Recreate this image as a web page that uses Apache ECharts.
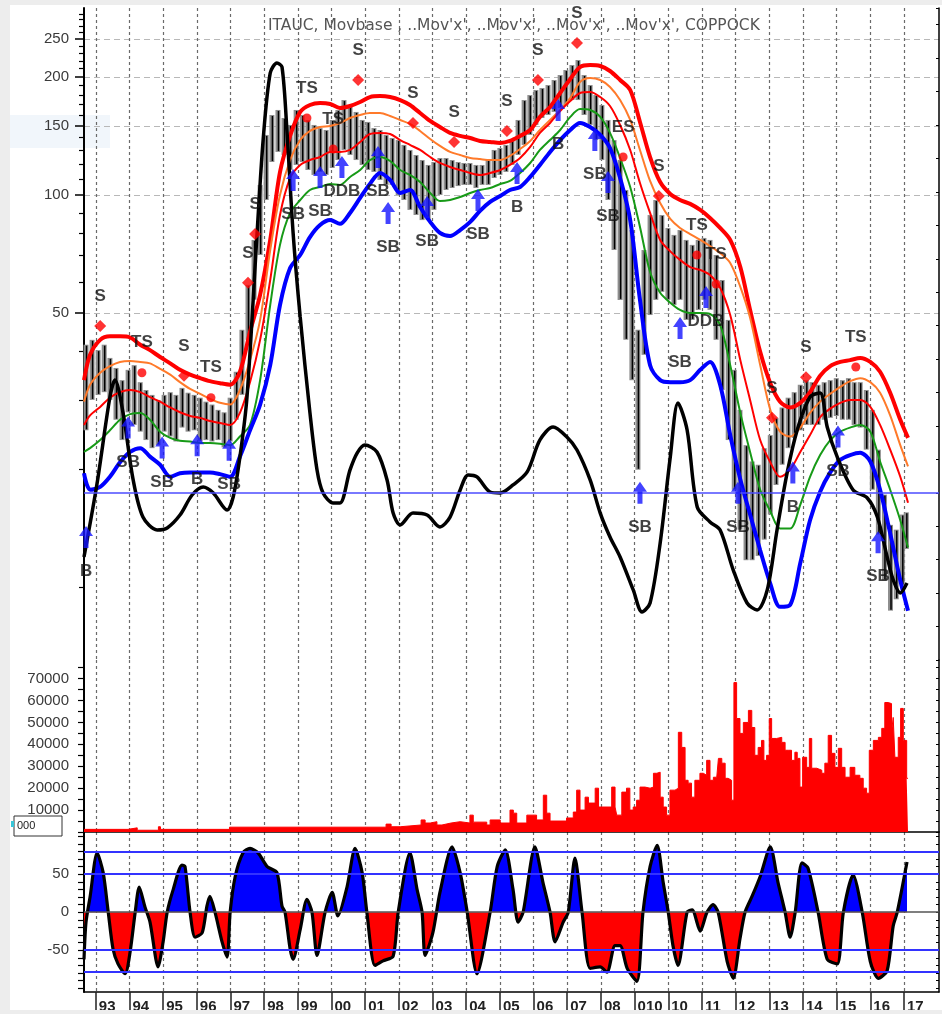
<!DOCTYPE html>
<html>
<head>
<meta charset="utf-8">
<title>ITAUC Movbase Coppock</title>
<style>
	* { padding: 0; margin: 0; }
	body { background: #ededed; }
	#main { width: 942px; height: 1014px; background: #fff; }
</style>
</head>
<body>
<div id="main"></div>
<script src="https://cdn.jsdelivr.net/npm/echarts/dist/echarts.min.js"></script>
<script type="text/javascript">
// ---- x axis ----
var yearTicks = [1993, 1994, 1995, 1996, 1997, 1998, 1999, 2000, 2001, 2002, 2003, 2004, 2005, 2006, 2007, 2008, 2009, 2010, 2011, 2012, 2013, 2014, 2015, 2016, 2017];
var yearLabels = ['93', '94', '95', '96', '97', '98', '99', '00', '01', '02', '03', '04', '05', '06', '07', '08', '010', '10', '11', '12', '13', '14', '15', '16', '17'];

// ---- y axis ticks ----
var priceLabels = [50, 100, 150, 200, 250];
var priceTicks = [10, 20, 30, 40, 60, 70, 80, 90, 110, 120, 130, 140, 160, 170, 180, 190, 210, 220, 230, 240, 260, 270, 280, 290];
var volLabels = [10000, 20000, 30000, 40000, 50000, 60000, 70000];
var volTicks = [0, 5000, 10000, 15000, 20000, 25000, 30000, 35000, 40000, 45000, 50000, 55000, 60000, 65000, 70000, 75000];
var oscLabels = [-50, 0, 50];
var oscTicks = [-100, -90, -80, -70, -60, -50, -40, -30, -20, -10, 0, 10, 20, 30, 40, 50, 60, 70, 80, 90, 100];
var oscLevels = [80, 50, -50, -78];

// ---- moving averages (sample years shared by the five lines) ----
var lineYears = [1992.65, 1992.83, 1993.13, 1993.42, 1993.72, 1994.02, 1994.32, 1994.61, 1994.91, 1995.21, 1995.50, 1995.80, 1996.10, 1996.39, 1996.69, 1996.99, 1997.28, 1997.58, 1997.88, 1998.18, 1998.47, 1998.77, 1999.07, 1999.36, 1999.66, 1999.96, 2000.25, 2000.55, 2000.85, 2001.14, 2001.44, 2001.74, 2002.04, 2002.33, 2002.63, 2002.93, 2003.22, 2003.52, 2003.82, 2004.12, 2004.41, 2004.71, 2005.01, 2005.30, 2005.60, 2005.90, 2006.19, 2006.49, 2006.79, 2007.09, 2007.38, 2007.68, 2007.98, 2008.27, 2008.57, 2008.87, 2009.16, 2009.46, 2009.76, 2010.06, 2010.35, 2010.65, 2010.95, 2011.24, 2011.54, 2011.84, 2012.14, 2012.43, 2012.73, 2013.03, 2013.32, 2013.62, 2013.92, 2014.21, 2014.51, 2014.81, 2015.11, 2015.40, 2015.70, 2016.00, 2016.29, 2016.59, 2016.89, 2017.12];
var movTop = [33.7, 39.1, 42.7, 43.6, 43.6, 43.3, 41.5, 40.2, 38.6, 37.2, 35.8, 34.8, 34.1, 33.5, 33.1, 32.8, 35.4, 44.8, 55.6, 76.8, 114.4, 141.5, 162.9, 169.7, 171.7, 170.7, 166.7, 168.7, 172.7, 177.8, 178.8, 177.8, 174.7, 169.7, 161.9, 154.5, 149.1, 144.0, 141.5, 139.8, 137.4, 136.6, 135.8, 137.4, 141.5, 146.5, 158.2, 167.7, 182.1, 197.7, 212.1, 214.6, 213.4, 207.2, 196.5, 185.3, 153.6, 125.0, 107.9, 100.6, 97.1, 94.9, 91.6, 87.4, 82.4, 76.8, 65.5, 50.9, 39.8, 33.1, 29.7, 28.7, 29.5, 31.4, 34.6, 36.6, 37.5, 37.9, 38.4, 37.5, 35.4, 31.3, 26.7, 24.0];
var movOrange = [29.7, 32.8, 35.2, 36.6, 37.5, 37.7, 37.5, 37.2, 36.0, 34.8, 33.3, 32.0, 31.1, 30.2, 29.5, 29.2, 31.8, 37.9, 48.0, 72.4, 100, 122.8, 138.1, 145.7, 149.1, 150.0, 152.7, 157.2, 160.0, 161.9, 161.9, 159.1, 155.4, 151.8, 145.7, 139.0, 133.4, 128.8, 126.5, 124.3, 123.5, 122.8, 122.8, 125.8, 131.0, 137.4, 146.5, 155.4, 164.8, 176.7, 194.3, 198.9, 196.5, 188.6, 174.7, 155.4, 130.3, 108.6, 95.4, 86.9, 82.4, 79.5, 76.8, 74.1, 71.1, 67.1, 58.3, 48.6, 36.8, 28.3, 24.9, 24.2, 25.5, 27.8, 29.7, 31.1, 32.4, 33.5, 34.1, 33.3, 31.3, 27.4, 23.0, 20.3];
var movRed = [25.9, 27.4, 28.8, 30.4, 31.4, 31.8, 31.4, 30.5, 29.7, 28.7, 27.9, 27.3, 27.0, 26.5, 26.2, 25.9, 27.8, 33.3, 42.7, 60.7, 88.9, 110.5, 119.3, 122.8, 125.0, 128.8, 128.8, 130.3, 136.6, 143.1, 144.0, 143.1, 138.1, 134.2, 130.3, 125.0, 120.7, 117.9, 115.8, 113.8, 112.5, 113.8, 115.8, 119.3, 124.3, 132.6, 144.0, 152.7, 163.8, 173.7, 182.1, 183.2, 177.8, 168.7, 150.9, 130.3, 107.3, 90.0, 76.8, 71.8, 68.3, 65.5, 64.4, 62.5, 58.0, 49.4, 37.9, 30.0, 23.7, 20.8, 19.1, 19.9, 22.1, 24.4, 27.1, 28.5, 29.5, 30.0, 30.0, 28.8, 25.9, 22.4, 19.1, 16.4];
var movGreen = [22.1, 22.6, 23.7, 25.1, 26.7, 27.6, 27.8, 26.7, 24.9, 24.0, 23.6, 23.5, 23.3, 23.3, 23.2, 23.0, 24.2, 25.9, 33.7, 52.4, 74.6, 90.0, 97.1, 103.0, 104.8, 106.7, 106.1, 111.2, 115.8, 122.8, 125.0, 122.1, 115.8, 112.5, 107.9, 101.2, 96.5, 97.1, 98.8, 101.2, 103.0, 104.2, 106.7, 108.6, 113.8, 120.7, 130.3, 138.1, 146.5, 158.2, 165.7, 164.8, 158.2, 144.0, 124.3, 104.8, 82.9, 63.6, 56.3, 53.1, 50.9, 50.0, 50.0, 49.7, 46.6, 36.8, 27.8, 22.1, 17.7, 15.6, 14.1, 14.1, 16.2, 19.1, 21.7, 23.7, 24.9, 25.5, 25.9, 24.9, 20.9, 17.7, 14.8, 12.6];
var movBlue = [19.5, 17.7, 18.0, 19.1, 20.8, 22.1, 22.6, 21.5, 20.5, 19.1, 19.5, 19.6, 19.6, 19.6, 19.4, 19.1, 21.5, 25.1, 29.2, 36.8, 52.4, 65.1, 70.3, 78.1, 83.8, 86.3, 84.4, 90.0, 98.3, 106.7, 113.8, 109.2, 101.2, 103.0, 93.2, 85.4, 80.0, 78.6, 81.4, 85.4, 91.1, 96.0, 99.4, 103.0, 104.8, 111.2, 119.3, 128.8, 138.1, 146.5, 152.7, 149.1, 142.3, 131.8, 110.5, 86.3, 54.0, 36.8, 33.7, 33.3, 33.3, 33.7, 35.8, 37.5, 32.8, 24.4, 18.8, 15.3, 12.4, 10.2, 8.9, 9.0, 11.5, 14.8, 17.5, 19.6, 21.1, 21.7, 22.0, 20.9, 17.7, 13.7, 10.4, 8.7];

// ---- price bars ----
var barYears = [1992.71, 1992.89, 1993.07, 1993.25, 1993.42, 1993.60, 1993.78, 1993.96, 1994.14, 1994.32, 1994.49, 1994.67, 1994.85, 1995.03, 1995.21, 1995.38, 1995.56, 1995.74, 1995.92, 1996.10, 1996.27, 1996.45, 1996.63, 1996.81, 1996.99, 1997.17, 1997.34, 1997.52, 1997.70, 1997.88, 1998.06, 1998.23, 1998.41, 1998.59, 1998.77, 1998.95, 1999.13, 1999.30, 1999.48, 1999.66, 1999.84, 2000.02, 2000.19, 2000.37, 2000.55, 2000.73, 2000.91, 2001.08, 2001.26, 2001.44, 2001.62, 2001.80, 2001.98, 2002.15, 2002.33, 2002.51, 2002.69, 2002.87, 2003.04, 2003.22, 2003.40, 2003.58, 2003.76, 2003.93, 2004.11, 2004.29, 2004.47, 2004.65, 2004.83, 2005.00, 2005.18, 2005.36, 2005.54, 2005.72, 2005.89, 2006.07, 2006.25, 2006.43, 2006.61, 2006.79, 2006.96, 2007.14, 2007.32, 2007.50, 2007.68, 2007.85, 2008.03, 2008.21, 2008.39, 2008.57, 2008.74, 2008.92, 2009.10, 2009.28, 2009.46, 2009.63, 2009.81, 2009.99, 2010.17, 2010.35, 2010.53, 2010.71, 2010.89, 2011.06, 2011.24, 2011.42, 2011.60, 2011.78, 2011.96, 2012.13, 2012.31, 2012.49, 2012.67, 2012.85, 2013.03, 2013.20, 2013.38, 2013.56, 2013.74, 2013.92, 2014.10, 2014.27, 2014.45, 2014.63, 2014.81, 2014.99, 2015.17, 2015.35, 2015.52, 2015.70, 2015.88, 2016.06, 2016.24, 2016.42, 2016.60, 2016.77, 2016.95, 2017.07];
var barHigh = [41.5, 42.7, 40.2, 41.5, 38.4, 36.2, 33.7, 35.8, 36.8, 33.3, 31.8, 30.9, 30.0, 30.9, 31.4, 30.9, 32.2, 31.3, 30.9, 30.4, 29.7, 29.2, 28.3, 27.9, 30.4, 35.4, 45.3, 59.0, 76.8, 106.1, 142.3, 160.0, 164.8, 157.2, 150.9, 164.8, 160.0, 155.4, 150.9, 148.2, 146.5, 155.4, 164.8, 174.7, 169.7, 162.9, 155.4, 153.6, 148.2, 146.5, 142.3, 139.8, 138.1, 134.2, 130.3, 126.5, 122.8, 119.3, 121.4, 124.3, 124.3, 122.8, 121.4, 120.7, 120.7, 119.3, 119.3, 122.8, 130.3, 131.8, 134.2, 138.1, 155.4, 174.7, 179.9, 185.3, 187.5, 190.8, 196.5, 202.4, 208.4, 214.6, 221.0, 202.4, 190.8, 179.9, 169.7, 155.4, 138.1, 122.8, 103.0, 81.4, 45.3, 72.4, 88.9, 97.1, 88.9, 82.4, 79.1, 81.4, 76.8, 74.6, 76.8, 77.7, 76.8, 70.3, 60.7, 48.0, 35.8, 28.3, 23.0, 20.9, 20.5, 22.6, 24.4, 27.0, 28.7, 30.4, 31.4, 32.8, 33.7, 33.3, 32.8, 33.3, 33.7, 34.1, 33.7, 34.1, 33.3, 33.3, 31.8, 28.3, 22.4, 17.2, 14.4, 14.0, 15.3, 15.5];
var barLow = [25.1, 30.0, 30.9, 31.4, 30.0, 26.7, 23.7, 27.9, 25.9, 24.9, 23.7, 22.6, 23.0, 24.9, 24.2, 23.5, 25.5, 24.9, 25.1, 23.5, 23.7, 23.5, 23.7, 22.7, 23.5, 26.7, 30.9, 42.7, 54.0, 70.3, 97.1, 121.4, 128.8, 126.5, 115.8, 119.3, 121.4, 115.8, 112.5, 114.5, 112.5, 117.2, 122.8, 130.3, 126.5, 122.8, 119.3, 115.8, 114.5, 109.2, 106.1, 106.1, 100, 97.1, 91.6, 88.9, 86.3, 86.3, 91.6, 100, 103.0, 104.2, 105.4, 106.1, 106.1, 104.2, 106.1, 106.1, 110.5, 112.5, 114.5, 119.3, 126.5, 134.2, 142.3, 150.9, 157.2, 160.0, 162.9, 166.7, 169.7, 174.7, 174.7, 160.0, 150.9, 138.1, 122.8, 97.1, 72.4, 54.0, 42.7, 33.7, 19.9, 39.1, 49.4, 54.0, 56.6, 54.0, 52.4, 54.0, 48.0, 48.0, 50.9, 54.0, 50.9, 42.7, 31.8, 23.7, 17.7, 14.0, 11.7, 11.7, 12.0, 13.2, 15.3, 18.2, 20.5, 22.6, 24.0, 25.1, 25.9, 25.9, 25.9, 26.7, 27.0, 27.3, 26.7, 26.7, 25.9, 25.5, 22.4, 17.7, 13.6, 10.4, 8.7, 9.3, 10.1, 12.5];

// ---- coppock overlay in the price panel ----
var cokYears = [1992.65, 1993.04, 1993.42, 1993.57, 1993.81, 1994.11, 1994.40, 1994.82, 1995.12, 1995.50, 1995.86, 1996.19, 1996.49, 1996.90, 1997.08, 1997.28, 1997.49, 1997.79, 1997.97, 1998.18, 1998.38, 1998.53, 1998.68, 1998.86, 1999.07, 1999.36, 1999.57, 1999.75, 2000.05, 2000.25, 2000.55, 2000.76, 2000.99, 2001.35, 2001.65, 2001.83, 2002.04, 2002.42, 2002.84, 2003.22, 2003.52, 2003.82, 2004.06, 2004.32, 2004.71, 2005.01, 2005.39, 2005.81, 2006.19, 2006.58, 2006.99, 2007.29, 2007.68, 2007.98, 2008.27, 2008.57, 2008.96, 2009.22, 2009.46, 2009.76, 2010.06, 2010.29, 2010.56, 2010.86, 2011.24, 2011.54, 2011.93, 2012.34, 2012.64, 2012.94, 2013.23, 2013.53, 2013.83, 2014.21, 2014.51, 2014.72, 2015.02, 2015.49, 2015.91, 2016.21, 2016.50, 2016.68, 2016.89, 2017.09];
var cokValues = [-38.4, 5.9, 57.3, 67.5, 47.8, 7.7, -14.5, -22.2, -21, -13.3, -1.3, 3.5, -0.1, -10.3, -2.5, 21.4, 57.3, 155.4, 211.1, 251.1, 257.1, 254.7, 215.3, 155.4, 105.2, 47.8, 13.7, -0.1, -6.1, -6.1, 13.7, 23.8, 28.6, 24.4, 7.7, -12.1, -19.2, -12.1, -13.3, -20.4, -14.5, 1.7, 10.7, 9.5, 0.5, -0.1, 4.7, 12.5, 31.6, 39.4, 33.4, 25.6, 7.7, -12.1, -26.4, -38.4, -58.1, -71.3, -65.9, -30, 21.4, 53.7, 37.6, -8.5, -17.4, -22.2, -46.2, -65.9, -70.1, -58.1, -22.2, 11.9, 37.6, 57.3, 59.7, 39.4, 21.4, 1.7, -3.1, -14.5, -38.4, -52.1, -59.9, -53.9];

// ---- signals ----
var sYears = [1993.13, 1995.62, 1997.52, 1997.73, 2000.79, 2002.42, 2003.64, 2005.21, 2006.13, 2007.29, 2009.72, 2013.08, 2014.09];
var sPrices = [46.3, 34.6, 59.7, 79.5, 196.5, 152.7, 136.6, 145.7, 196.5, 244.3, 99.4, 27.0, 34.3];
var tsYears = [1994.37, 1996.42, 1999.27, 2000.05, 2008.66, 2010.85, 2011.42, 2015.57];
var tsPrices = [35.2, 30.4, 157.2, 131.0, 125.0, 70.3, 59.3, 36.4];
var tsTexts = ['TS', 'TS', 'TS', 'TS', 'ES', 'TS', 'TS', 'TS'];
var arrowYears = [1992.71, 1993.96, 1994.97, 1996.01, 1996.96, 1998.86, 1999.66, 2000.31, 2001.38, 2001.68, 2002.84, 2004.35, 2005.51, 2006.73, 2007.82, 2008.21, 2009.16, 2010.35, 2011.12, 2012.07, 2013.70, 2015.04, 2016.23];
var arrowPrices = [13.4, 25.5, 22.7, 23.0, 22.4, 109.2, 111.2, 117.9, 125.0, 90.0, 93.2, 97.1, 113.8, 164.8, 138.1, 107.9, 17.4, 45.8, 54.9, 17.4, 19.6, 24.2, 13.0];
var arrowTexts = ['B', 'SB', 'SB', 'B', 'SB', 'SB', 'SB', 'DDB', 'SB', 'SB', 'SB', 'SB', 'B', 'B', 'SB', 'SB', 'SB', 'SB', 'DDB', 'SB', 'B', 'SB', 'SB'];

// ---- volume ----
var volYears = [1992.65, 1993.96, 1994.23, 1994.86, 1994.92, 1996.97, 2001.62, 2001.77, 2002.04, 2002.66, 2002.78, 2002.93, 2003.13, 2003.28, 2003.55, 2003.82, 2004.11, 2004.21, 2004.61, 2004.71, 2005.01, 2005.30, 2005.40, 2005.50, 2005.80, 2006.09, 2006.29, 2006.39, 2006.49, 2006.98, 2007.18, 2007.28, 2007.38, 2007.53, 2007.63, 2007.83, 2007.93, 2008.32, 2008.42, 2008.47, 2008.62, 2008.76, 2008.86, 2008.96, 2009.06, 2009.16, 2009.31, 2009.46, 2009.56, 2009.66, 2009.76, 2009.85, 2009.95, 2010.05, 2010.20, 2010.30, 2010.40, 2010.50, 2010.59, 2010.69, 2010.79, 2010.94, 2011.04, 2011.14, 2011.24, 2011.34, 2011.44, 2011.49, 2011.59, 2011.69, 2011.78, 2011.88, 2011.95, 2012.03, 2012.13, 2012.23, 2012.38, 2012.48, 2012.57, 2012.67, 2012.77, 2012.84, 2012.92, 2013.00, 2013.07, 2013.22, 2013.37, 2013.47, 2013.56, 2013.66, 2013.76, 2013.83, 2013.91, 2013.99, 2014.11, 2014.19, 2014.26, 2014.41, 2014.56, 2014.65, 2014.75, 2014.85, 2014.95, 2015.05, 2015.15, 2015.25, 2015.40, 2015.54, 2015.69, 2015.79, 2015.89, 2015.97, 2016.09, 2016.24, 2016.34, 2016.43, 2016.53, 2016.63, 2016.68, 2016.73, 2016.83, 2016.90, 2016.98, 2017.08, 2017.12];
var volValues = [1200, 1900, 800, 2400, 1200, 2200, 3600, 2400, 3200, 5500, 4100, 4700, 3200, 4100, 4700, 4100, 7700, 4500, 3200, 5500, 4100, 10000, 8600, 4100, 7700, 5500, 16800, 8600, 5000, 6400, 9100, 19100, 10000, 15900, 13200, 20000, 11400, 20500, 11400, 7700, 18200, 20000, 10000, 11400, 14500, 20500, 20000, 20500, 26800, 27300, 15900, 11400, 7700, 19100, 20000, 45500, 38600, 23600, 22300, 15900, 23600, 26800, 25900, 32700, 23600, 25000, 24500, 33600, 31400, 24500, 23600, 14500, 68200, 51800, 45000, 50000, 55500, 47700, 35000, 38600, 41800, 32700, 35000, 51800, 42700, 43200, 40900, 37300, 37300, 32700, 36400, 33600, 20500, 34100, 29500, 42700, 29100, 28200, 26800, 31400, 44100, 35900, 29500, 38200, 29500, 25000, 29500, 25900, 24500, 20000, 17700, 37300, 41800, 43200, 47300, 59100, 58600, 45500, 52300, 34100, 43200, 56400, 41800, 24500, 24500];

// ---- oscillator (lower panel) ----
var oscYears = [1992.65, 1992.71, 1992.83, 1993.04, 1993.22, 1993.37, 1993.51, 1993.66, 1993.87, 1994.02, 1994.17, 1994.29, 1994.46, 1994.61, 1994.85, 1995.00, 1995.12, 1995.30, 1995.56, 1995.65, 1995.80, 1995.95, 1996.16, 1996.30, 1996.39, 1996.54, 1996.75, 1996.90, 1996.99, 1997.14, 1997.37, 1997.58, 1997.82, 1998.09, 1998.38, 1998.53, 1998.62, 1998.77, 1998.86, 1999.07, 1999.27, 1999.42, 1999.57, 1999.81, 2000.02, 2000.19, 2000.46, 2000.70, 2000.91, 2001.05, 2001.29, 2001.53, 2001.83, 2001.98, 2002.33, 2002.54, 2002.69, 2002.78, 2003.01, 2003.22, 2003.58, 2003.82, 2004.03, 2004.32, 2004.71, 2004.92, 2005.16, 2005.39, 2005.54, 2005.69, 2006.04, 2006.28, 2006.49, 2006.64, 2006.88, 2007.03, 2007.23, 2007.44, 2007.68, 2007.98, 2008.18, 2008.42, 2008.57, 2008.78, 2009.07, 2009.25, 2009.46, 2009.67, 2009.85, 2010.00, 2010.14, 2010.29, 2010.56, 2010.71, 2010.95, 2011.15, 2011.33, 2011.48, 2011.75, 2011.93, 2012.13, 2012.28, 2012.49, 2012.73, 2013.03, 2013.26, 2013.47, 2013.62, 2013.77, 2013.97, 2014.15, 2014.45, 2014.72, 2015.02, 2015.20, 2015.49, 2015.76, 2016.00, 2016.24, 2016.50, 2016.68, 2016.80, 2017.09];
var oscValues = [-62, -13, 20, 78, 52, 0, -48, -68, -81, -52, 0, 33, 7, -13, -72, -39, 0, 30, 62, 60, 0, -33, -27, 8, 21, 0, -39, -59, 0, 47, 78, 84, 78, 60, 52, 8, 0, -48, -62, -23, 17, 0, -57, 0, 26, -5, 33, 84, 52, 0, -70, -64, -58, 0, 78, 30, 0, -57, -27, 26, 86, 52, 0, -81, 0, 60, 82, 30, -13, 0, 86, 39, 0, -39, -13, 0, 71, 0, -74, -72, -79, -44, -44, -74, -91, 0, 60, 88, 39, 0, -44, -70, 0, 3, -25, 0, 10, 0, -65, -87, -35, 0, 21, 47, 86, 39, 0, -33, 0, 65, 58, 0, -62, -68, 0, 49, 0, -65, -87, -77, -18, 0, 66];

var FONT = '"Liberation Sans", Arial, sans-serif';
var X_MIN = 1992.65, X_MAX = 2018.04;
var P_MIN = 6.51, P_MAX = 300;
var V_MAX = 78500;

function pairs(xs, ys) {
	return xs.map(function (x, i) { return [x, ys[i]]; });
}

function xAxisFor(gridIndex, withLabels) {
	return {
		type: 'value', gridIndex: gridIndex, min: X_MIN, max: X_MAX,
		axisLine: { show: gridIndex > 0, onZero: false, lineStyle: { color: '#000', width: 1.5 } },
		axisTick: { show: withLabels, customValues: yearTicks, length: 22, lineStyle: { color: '#222', width: 1.5 } },
		axisLabel: {
			show: withLabels, customValues: yearTicks, align: 'left', margin: 7, padding: [0, 0, 0, 3],
			fontFamily: FONT, fontWeight: 'bold', fontSize: 15, color: '#222',
			formatter: function (v) { return yearLabels[Math.round(v) - 1993]; }
		},
		splitLine: { show: true, lineStyle: { color: '#6a6a6a', type: [3, 3], width: 1.2 } }
	};
}

function movLine(values, color, width) {
	return {
		type: 'line', xAxisIndex: 0, yAxisIndex: 0, data: pairs(lineYears, values),
		showSymbol: false, symbol: 'none', smooth: 0.3, silent: true, z: 3,
		lineStyle: { color: color, width: width }
	};
}

function plainNumber(v) { return String(v); }

var signalFont = { fontFamily: FONT, fontWeight: 'bold', fontSize: 17, color: '#111' };
var axisFont = { fontFamily: FONT, fontSize: 15, color: '#3a3a3a', formatter: plainNumber };

var myChart = echarts.init(document.getElementById('main'));
var option = {
	animation: false,
	title: {
		text: "ITAUC, Movbase , ..Mov'x', ..Mov'x', ..Mov'x', ..Mov'x', COPPOCK",
		left: 263, top: 13,
		textStyle: { fontFamily: '"DejaVu Sans", sans-serif', fontSize: 15.5, fontWeight: 'normal', color: '#555' }
	},
	grid: [
		{ left: 84, right: 3, top: 8, height: 652 },
		{ left: 84, right: 3, top: 660, height: 172 },
		{ left: 84, right: 3, top: 832, height: 161.7 }
	],
	xAxis: [xAxisFor(0, false), xAxisFor(1, false), xAxisFor(2, true)],
	yAxis: [
		{
			type: 'log', gridIndex: 0, min: P_MIN, max: P_MAX, position: 'left',
			axisLine: { show: true, lineStyle: { color: '#000', width: 2 } },
			axisTick: { show: true, customValues: priceTicks, length: 5, lineStyle: { color: '#000', width: 1.2 } },
			axisLabel: Object.assign({ show: true, customValues: priceLabels, margin: 15 }, axisFont),
			splitLine: { show: false }
		},
		{
			type: 'log', gridIndex: 0, min: P_MIN, max: P_MAX, position: 'left',
			axisLine: { show: false },
			axisTick: { show: true, customValues: priceLabels, length: 9, lineStyle: { color: '#000', width: 1.5 } },
			axisLabel: { show: false },
			splitLine: { show: true, lineStyle: { color: '#b8b8b8', type: [6, 4], width: 1.2 } }
		},
		{
			type: 'value', gridIndex: 0, min: -100, max: 290, interval: 20, position: 'right',
			axisLine: { show: true, onZero: false, lineStyle: { color: '#000', width: 1.5 } },
			axisTick: { show: true, inside: true, length: 3, lineStyle: { color: '#000' } },
			axisLabel: { show: false }, splitLine: { show: false }
		},
		{
			type: 'value', gridIndex: 1, min: 0, max: V_MAX, position: 'left',
			axisLine: { show: true, onZero: false, lineStyle: { color: '#000', width: 2 } },
			axisTick: { show: true, customValues: volTicks, length: 6, lineStyle: { color: '#000', width: 1.2 } },
			axisLabel: Object.assign({ show: true, customValues: volLabels, margin: 15 }, axisFont),
			splitLine: { show: false }
		},
		{
			type: 'value', gridIndex: 1, min: 0, max: V_MAX, position: 'right',
			axisLine: { show: true, onZero: false, lineStyle: { color: '#000', width: 1.5 } },
			axisTick: { show: true, inside: true, customValues: volTicks, length: 3, lineStyle: { color: '#000' } },
			axisLabel: { show: false }, splitLine: { show: false }
		},
		{
			type: 'value', gridIndex: 2, min: -105, max: 105.5, position: 'left',
			axisLine: { show: true, onZero: false, lineStyle: { color: '#000', width: 2 } },
			axisTick: { show: true, customValues: oscTicks, length: 6, lineStyle: { color: '#000', width: 1.2 } },
			axisLabel: Object.assign({ show: true, customValues: oscLabels, margin: 15 }, axisFont),
			splitLine: { show: false }
		},
		{
			type: 'value', gridIndex: 2, min: -105, max: 105.5, position: 'right',
			axisLine: { show: true, onZero: false, lineStyle: { color: '#000', width: 1.5 } },
			axisTick: { show: true, inside: true, customValues: oscTicks, length: 3, lineStyle: { color: '#000' } },
			axisLabel: { show: false }, splitLine: { show: false }
		}
	],
	// finite bounds so the line view gets real colour stops for the fill
	visualMap: [{
		type: 'piecewise', show: false, seriesIndex: 11, dimension: 1,
		pieces: [{ gt: 0, lte: 500, color: '#0000ff' }, { gt: -500, lte: 0, color: '#ff0000' }]
	}],
	series: [
		// 0 price bars
		{
			type: 'custom', xAxisIndex: 0, yAxisIndex: 0, silent: true, z: 2,
			data: barYears.map(function (x, i) { return [x, barLow[i], barHigh[i]]; }),
			encode: { x: 0, y: [1, 2] },
			renderItem: function (params, api) {
				var hi = api.coord([api.value(0), api.value(2)]);
				var lo = api.coord([api.value(0), api.value(1)]);
				return {
					type: 'group', children: [
						{ type: 'rect', shape: { x: hi[0] - 2.5, y: hi[1], width: 5, height: lo[1] - hi[1] }, style: { fill: '#8e8e8e' } },
						{ type: 'line', shape: { x1: hi[0] + 0.5, y1: hi[1] + 1, x2: hi[0] + 0.5, y2: lo[1] - 1 }, style: { stroke: '#000', lineWidth: 1.5 } }
					]
				};
			}
		},
		// 1-5 moving averages
		movLine(movTop, '#ff0000', 4),
		movLine(movOrange, '#ff7a2a', 2),
		movLine(movRed, '#ff0000', 2),
		movLine(movGreen, '#179a17', 2),
		movLine(movBlue, '#0000ff', 4),
		// 6 coppock overlay with its zero line
		{
			type: 'line', xAxisIndex: 0, yAxisIndex: 2, data: pairs(cokYears, cokValues),
			showSymbol: false, symbol: 'none', smooth: 0.3, silent: true, z: 4,
			lineStyle: { color: '#000', width: 3.5 },
			markLine: {
				silent: true, symbol: 'none', label: { show: false },
				lineStyle: { color: '#4d4dff', width: 1.5, type: 'solid' },
				data: [{ yAxis: 0 }]
			}
		},
		// 7 sell diamonds
		{
			type: 'scatter', xAxisIndex: 0, yAxisIndex: 0, silent: true, z: 6,
			symbol: 'diamond', symbolSize: 12, itemStyle: { color: '#ff0000' },
			data: pairs(sYears, sPrices),
			label: Object.assign({ show: true, position: 'top', distance: 15, formatter: 'S' }, signalFont)
		},
		// 8 trailing stop circles
		{
			type: 'scatter', xAxisIndex: 0, yAxisIndex: 0, silent: true, z: 6,
			symbol: 'circle', symbolSize: 9, itemStyle: { color: '#ff0000' },
			data: tsYears.map(function (x, i) { return { value: [x, tsPrices[i]], label: { formatter: tsTexts[i] } }; }),
			label: Object.assign({ show: true, position: 'top', distance: 17 }, signalFont)
		},
		// 9 buy arrows
		{
			type: 'scatter', xAxisIndex: 0, yAxisIndex: 0, silent: true, z: 6,
			symbol: 'path://M7,0 L14,10 L9.5,10 L9.5,22 L4.5,22 L4.5,10 L0,10 Z', symbolSize: [14, 22],
			itemStyle: { color: '#1414ff' },
			data: arrowYears.map(function (x, i) {
				var t = arrowTexts[i];
				return { value: [x, arrowPrices[i]], label: { formatter: t, distance: t === 'DDB' ? 5 : 15 } };
			}),
			label: Object.assign({ show: true, position: 'bottom' }, signalFont)
		},
		// 10 volume
		{
			type: 'line', xAxisIndex: 1, yAxisIndex: 3, data: pairs(volYears, volValues),
			step: 'end', showSymbol: false, symbol: 'none', silent: true,
			lineStyle: { color: '#ff0000', width: 1 },
			areaStyle: { color: '#ff0000', opacity: 1 }
		},
		// 11 oscillator
		{
			type: 'line', xAxisIndex: 2, yAxisIndex: 5, data: pairs(oscYears, oscValues),
			smooth: 0.25, showSymbol: false, symbol: 'none', silent: true,
			lineStyle: { color: '#000', width: 3.2 },
			areaStyle: { opacity: 1 },
			markLine: {
				silent: true, symbol: 'none', label: { show: false },
				lineStyle: { color: '#3333ff', width: 2, type: 'solid' },
				data: oscLevels.map(function (v) {
					return { yAxis: v, lineStyle: { color: '#3333ff', width: 2, type: 'solid' } };
				}).concat([{ yAxis: 0, lineStyle: { color: '#555', width: 1.5, type: 'solid' } }])
			}
		}
	],
	graphic: [
		{ type: 'rect', silent: true, z: -10, shape: { x: 10, y: 115, width: 100, height: 33 }, style: { fill: '#f1f6fb' } },
		{ type: 'rect', silent: true, z: 50, shape: { x: 14, y: 816, width: 48, height: 20 }, style: { fill: '#fff', stroke: '#333', lineWidth: 1 } },
		{ type: 'rect', silent: true, z: 51, shape: { x: 11, y: 821, width: 3, height: 6 }, style: { fill: '#39c6d8' } },
		{ type: 'text', silent: true, z: 51, x: 17, y: 820, style: { text: '000', fill: '#222', font: '11px ' + FONT } },
		{ type: 'rect', silent: true, z: 100, shape: { x: 0, y: 0, width: 10, height: 1014 }, style: { fill: '#ededed' } },
		{ type: 'rect', silent: true, z: 100, shape: { x: 0, y: 0, width: 942, height: 5 }, style: { fill: '#ededed' } },
		{ type: 'rect', silent: true, z: 100, shape: { x: 0, y: 1010, width: 942, height: 4 }, style: { fill: '#ededed' } }
	]
};
myChart.setOption(option);
</script>
</body>
</html>
